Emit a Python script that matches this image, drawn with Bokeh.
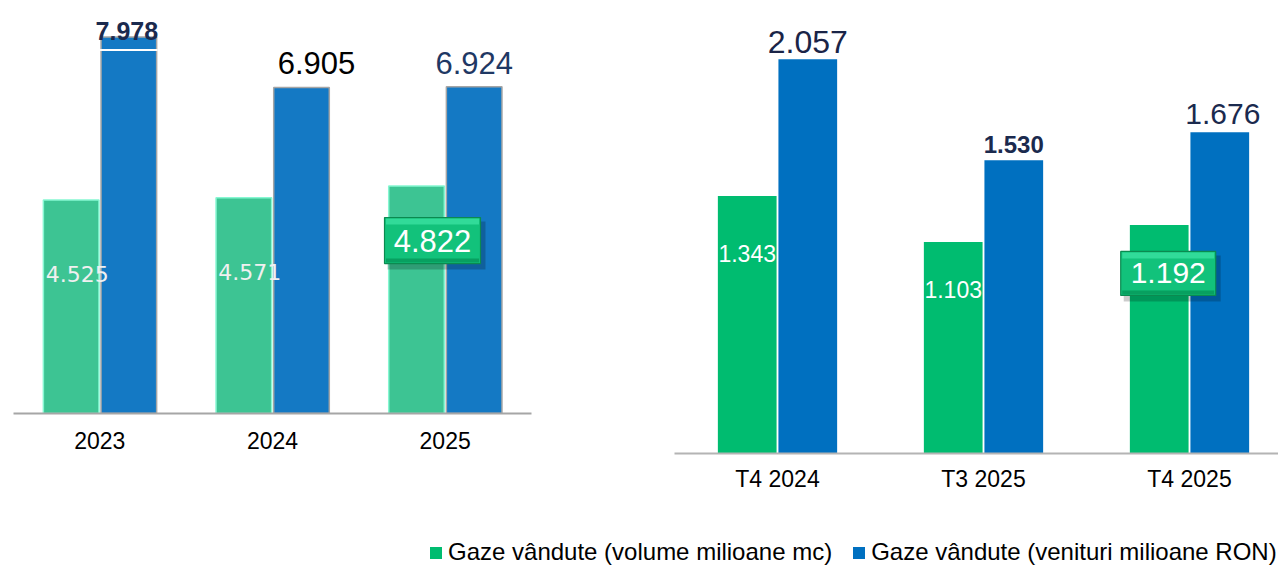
import numpy as np
from bokeh.plotting import figure
from bokeh.models import Range1d, FixedTicker, Legend, LegendItem
from bokeh.layouts import row, column
from bokeh.embed import file_html
from bokeh.resources import INLINE
from bokeh.core.properties import value

# ---------------- data ----------------
years = ["2023", "2024", "2025"]
volume_year = [4.525, 4.571, 4.822]      # Gaze vândute (volume milioane mc)
revenue_year = [7.978, 6.905, 6.924]     # Gaze vândute (venituri milioane RON)

quarters = ["T4 2024", "T3 2025", "T4 2025"]
volume_q = [1.343, 1.103, 1.192]
revenue_q = [2.057, 1.530, 1.676]

series_names = ["Gaze vândute (volume milioane mc)",
                "Gaze vândute (venituri milioane RON)"]
legend_colors = ["#00BC70", "#0070C0"]


def fmt(v):
    return f"{v:.3f}"


def make_chart(cats, vol, rev, cfg):
    n = len(cats)
    p = figure(width=cfg["width"], height=cfg["height"],
               x_range=Range1d(-0.5, cfg["x_end"]), y_range=Range1d(0, cfg["y_end"]),
               x_axis_location="below", y_axis_location=None,
               output_backend="svg", toolbar_location=None,
               min_border_left=cfg["mb_left"], min_border_right=cfg["mb_right"],
               min_border_top=cfg["mb_top"], min_border_bottom=cfg["mb_bottom"],
               outline_line_color=None, background_fill_color="white",
               border_fill_color="white", frame_align=False)
    p.grid.visible = False
    fw = cfg["width"] - cfg["mb_left"] - cfg["mb_right"]
    fh = cfg["height"] - cfg["mb_top"] - cfg["mb_bottom"]
    xppu = fw / (cfg["x_end"] + 0.5)
    yppu = fh / cfg["y_end"]

    idx = np.arange(n)
    xg = idx + cfg["off_g"]
    xb = idx + cfg["off_b"]
    bw = cfg["bw"]

    p.vbar(x=xg, top=vol, bottom=0, width=bw, fill_color=cfg["g_fill"],
           line_color=cfg["g_line"], line_width=cfg["lw"])
    p.vbar(x=xb, top=rev, bottom=0, width=bw, fill_color=cfg["b_fill"],
           line_color=cfg["b_line"], line_width=cfg["lw"])

    if cfg.get("break"):
        i = int(np.argmax(rev))
        yb = rev[i] - 13 / yppu
        p.segment(x0=[xb[i] - bw / 2 - 1 / xppu], x1=[xb[i] + bw / 2 + 1 / xppu],
                  y0=[yb], y1=[yb], line_color="white", line_width=2)

    # axis
    ax = p.xaxis[0]
    ax.ticker = FixedTicker(ticks=list(range(n)))
    ax.major_label_overrides = {i: c for i, c in enumerate(cats)}
    ax.major_tick_line_color = None
    ax.minor_tick_line_color = None
    ax.major_tick_in = 0
    ax.major_tick_out = 0
    ax.axis_line_color = cfg["axis_color"]
    ax.axis_line_width = 2
    ax.major_label_text_font = cfg["tick_font"]
    ax.major_label_text_font_size = cfg["tick_size"]
    ax.major_label_text_color = "#000000"
    ax.major_label_standoff = cfg["standoff"]

    # labels on top of revenue bars
    for i in range(n):
        st = cfg["top_styles"][i]
        p.text(x=[xb[i]], y=[rev[i]], text=[fmt(rev[i])],
               x_offset=st["dx"], y_offset=-st["gap"],
               text_align="center", text_baseline="alphabetic",
               text_font=value(st["font"]), text_font_size=f'{st["size"]}px',
               text_font_style=st["style"], text_color=st["color"])

    hi = n - 1
    # labels inside volume bars
    for i in range(n):
        if i == hi:
            continue
        p.text(x=[xg[i]], y=[vol[i] * cfg["in_frac"]], text=[fmt(vol[i])],
               x_offset=cfg["in_dx"], text_align="center", text_baseline="middle",
               text_font=value(cfg["in_font"]), text_font_size=cfg["in_size"],
               text_font_style=cfg["in_style"], text_color=cfg["in_color"])

    # highlighted box for latest volume
    bwpx, bhpx = cfg["box_w"], cfg["box_h"]
    cx = xg[hi] + cfg["box_dx"] / xppu
    cy = vol[hi] * cfg["box_frac"]
    p.rect(x=[cx + 4 / xppu], y=[cy - 5 / yppu], width=bwpx + 2, height=bhpx + 2,
           width_units="screen", height_units="screen",
           fill_color="#000000", fill_alpha=0.2, line_color=None)
    p.rect(x=[cx], y=[cy], width=bwpx, height=bhpx,
           width_units="screen", height_units="screen",
           fill_color="#12C27B", line_color="#0B8A50", line_width=1.2)
    p.rect(x=[cx], y=[cy + (bhpx / 2 - 4) / yppu], width=bwpx - 3, height=6,
           width_units="screen", height_units="screen",
           fill_color="#3FE6A6", fill_alpha=0.7, line_color=None)
    p.rect(x=[cx], y=[cy - (bhpx / 2 - 3) / yppu], width=bwpx - 3, height=4,
           width_units="screen", height_units="screen",
           fill_color="#089C5D", fill_alpha=0.9, line_color=None)
    p.text(x=[cx], y=[cy], text=[fmt(vol[hi])], text_align="center",
           text_baseline="middle", text_font=value(cfg["box_font"]),
           text_font_size=cfg["box_size"], text_color="white")
    return p


left_cfg = dict(
    width=660, height=498, x_end=2.5, y_end=405 / 47.2,
    mb_left=13, mb_right=129, mb_top=8, mb_bottom=85,
    off_g=-0.166, off_b=0.168, bw=0.322, lw=1.5,
    g_fill="#3DC493", g_line="#86F7D2", b_fill="#1479C4", b_line="#A5A5A5",
    axis_color="#A6A6A6", tick_font="Liberation Sans", tick_size="23px", standoff=18,
    top_styles=[
        dict(font="Liberation Sans", style="bold", size=25, color="#1B2A4E", gap=6, dx=-2),
        dict(font="Liberation Sans", style="normal", size=31, color="#000000", gap=25, dx=15),
        dict(font="Liberation Sans", style="normal", size=31, color="#1F3864", gap=24, dx=0),
    ],
    in_font="DejaVu Sans", in_size="22px", in_style="normal", in_color="#F0F0F0",
    in_frac=0.655, in_dx=6,
    box_dx=16, box_frac=0.76, box_w=96, box_h=46,
    box_font="Liberation Sans", box_size="31px",
)
left_cfg["break"] = True

right_cfg = dict(
    width=618, height=498, x_end=604 / 206 - 0.5, y_end=445 / 191.7,
    mb_left=14, mb_right=0, mb_top=8, mb_bottom=45,
    off_g=-0.147, off_b=0.147, bw=0.285, lw=1,
    g_fill="#00BC70", g_line=None, b_fill="#0070C0", b_line=None,
    axis_color="#B4B4B4", tick_font="Liberation Sans", tick_size="23px", standoff=12,
    top_styles=[
        dict(font="Liberation Sans", style="normal", size=32, color="#1A2447", gap=17, dx=0),
        dict(font="Liberation Sans", style="bold", size=24, color="#1B2A4E", gap=16, dx=0),
        dict(font="Liberation Sans", style="normal", size=30, color="#1B2A4E", gap=18, dx=3),
    ],
    in_font="Liberation Sans", in_size="23px", in_style="normal", in_color="#FFFFFF",
    in_frac=0.775, in_dx=0,
    box_dx=9, box_frac=0.788, box_w=95, box_h=44,
    box_font="Liberation Sans", box_size="30px",
)

p_left = make_chart(years, volume_year, revenue_year, left_cfg)
p_right = make_chart(quarters, volume_q, revenue_q, right_cfg)

# legend strip
pl = figure(width=1278, height=70, x_range=Range1d(0, 1), y_range=Range1d(0, 1),
            x_axis_location=None, y_axis_location=None,
            output_backend="svg", toolbar_location=None,
            min_border_left=0, min_border_right=0, min_border_top=0, min_border_bottom=0,
            outline_line_color=None, frame_align=False)
pl.grid.visible = False
items = []
for name, col in zip(series_names, legend_colors):
    r = pl.vbar(x=[0.5], top=[0], bottom=[0], width=0.0, fill_color=col, line_color=None)
    items.append(LegendItem(label=name, renderers=[r]))
legend = Legend(items=items, orientation="horizontal", location=(428, 2),
                glyph_width=15, glyph_height=15, label_standoff=5, spacing=19,
                padding=0, margin=0, border_line_color=None, background_fill_alpha=0,
                label_text_font="Liberation Sans", label_text_font_size="24px",
                label_text_color="#000000")
pl.add_layout(legend)

layout = column(row(p_left, p_right), pl)
open("out.html", "w").write(file_html(layout, INLINE))
